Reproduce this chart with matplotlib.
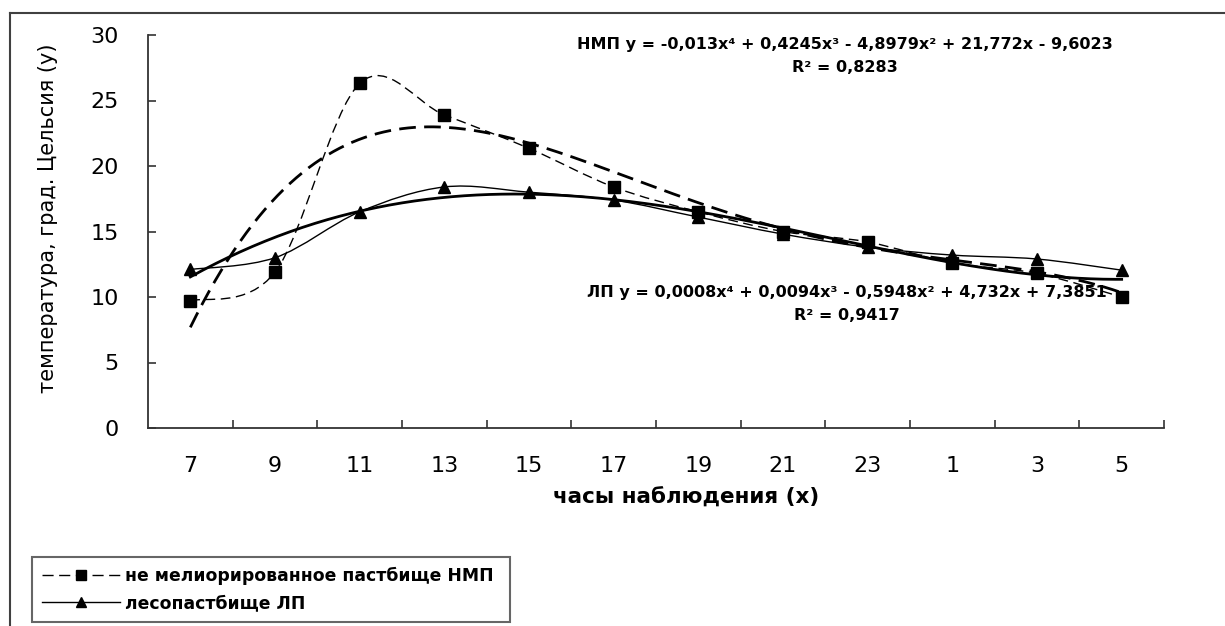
import numpy as np
import matplotlib
matplotlib.use("Agg")
import matplotlib.pyplot as plt
from matplotlib.path import Path
from matplotlib.patches import PathPatch
from matplotlib.lines import Line2D

plt.rcParams['font.family'] = ['DejaVu Sans']

# ---- data ----
hours = ["7", "9", "11", "13", "15", "17", "19", "21", "23", "1", "3", "5"]
nmp_values = [9.7, 11.9, 26.3, 23.9, 21.35, 18.4, 16.5, 15.0, 14.2, 12.6, 11.8, 10.0]
lp_values = [12.1, 13.0, 16.5, 18.4, 18.0, 17.4, 16.1, 14.8, 13.8, 13.2, 12.9, 12.05]
nmp_coef = [-0.013, 0.4245, -4.8979, 21.772, -9.6023]
lp_coef = [0.0008, 0.0094, -0.5948, 4.732, 7.3851]
nmp_label = "не мелиорированное пастбище НМП"
lp_label = "лесопастбище ЛП"
nmp_eq = "НМП y = -0,013x⁴ + 0,4245x³ - 4,8979x² + 21,772x - 9,6023"
nmp_r2 = "R² = 0,8283"
lp_eq = "ЛП y = 0,0008x⁴ + 0,0094x³ - 0,5948x² + 4,732x + 7,3851"
lp_r2 = "R² = 0,9417"
xlabel = "часы наблюдения (x)"
ylabel = "температура, град. Цельсия (y)"

W, H = 1225, 626
fig = plt.figure(figsize=(W / 100, H / 100), dpi=100)
ax = fig.add_axes([148 / W, (H - 428) / H, (1164 - 148) / W, (428 - 35) / H])

x = np.arange(1, len(hours) + 1)


def smooth_path(xs, ys):
    pts = np.column_stack([xs, ys]).astype(float)
    ext = np.vstack([pts[0], pts, pts[-1]])
    verts = [tuple(pts[0])]
    codes = [Path.MOVETO]
    for i in range(len(pts) - 1):
        p0, p1, p2, p3 = ext[i], ext[i + 1], ext[i + 2], ext[i + 3]
        c1 = p1 + (p2 - p0) / 6.0
        c2 = p2 - (p3 - p1) / 6.0
        verts += [tuple(c1), tuple(c2), tuple(p2)]
        codes += [Path.CURVE4] * 3
    return Path(verts, codes)


# trend lines
xt = np.linspace(1, len(hours), 300)
ax.plot(xt, np.polyval(nmp_coef, xt), color="black", lw=2.0,
        linestyle=(0, (6, 3)), zorder=2)
ax.plot(xt, np.polyval(lp_coef, xt), color="black", lw=2.0, zorder=2)

# smoothed data series
ax.add_patch(PathPatch(smooth_path(x, nmp_values), fill=False, edgecolor="black",
                       lw=1.0, linestyle=(0, (7, 4)), zorder=3))
ax.add_patch(PathPatch(smooth_path(x, lp_values), fill=False, edgecolor="black",
                       lw=1.0, zorder=3))
ax.plot(x, nmp_values, linestyle="none", marker="s", ms=8, color="black", zorder=4)
ax.plot(x, lp_values, linestyle="none", marker="^", ms=8, color="black", zorder=4)

ax.set_xlim(0.5, len(hours) + 0.5)
ax.set_ylim(0, 30)
ax.set_yticks(np.arange(0, 31, 5))
ax.set_xticks(x)
ax.set_xticklabels(hours)
ax.set_xticks(np.arange(1.5, len(hours) + 1, 1), minor=True)
ax.tick_params(axis="x", which="major", length=0, pad=20, labelsize=16)
ax.tick_params(axis="x", which="minor", direction="in", length=6, width=1.2, color="#333333")
ax.tick_params(axis="y", direction="in", length=6, width=1.2, color="#333333",
               pad=21, labelsize=16)
for s in ["top", "right"]:
    ax.spines[s].set_visible(False)
for s in ["left", "bottom"]:
    ax.spines[s].set_color("#333333")
    ax.spines[s].set_linewidth(1.3)

ax.set_xlabel(xlabel, fontsize=15.5, fontweight="bold", va="center")
ax.xaxis.set_label_coords(0.53, -0.178)
ax.set_ylabel(ylabel, fontsize=15, va="center", ha="center")
ax.yaxis.set_label_coords(-0.098, 0.534)

# equations
eq_kw = dict(ha="center", va="center", fontsize=11.5, fontweight="bold")
fig.text(845 / W, 1 - 45 / H, nmp_eq, **eq_kw)
fig.text(845 / W, 1 - 68 / H, nmp_r2, **eq_kw)
fig.text(847 / W, 1 - 293 / H, lp_eq, **eq_kw)
fig.text(847 / W, 1 - 316 / H, lp_r2, **eq_kw)

# outer frame lines
fig.add_artist(Line2D([10 / W, 1], [1 - 13 / H, 1 - 13 / H], transform=fig.transFigure,
                      color="#404040", lw=1.5))
fig.add_artist(Line2D([10 / W, 10 / W], [1 - 13 / H, 0], transform=fig.transFigure,
                      color="#404040", lw=1.5))

# legend
h1 = Line2D([], [], color="black", lw=1.0, linestyle=(0, (8, 4)), marker="s", ms=7)
h2 = Line2D([], [], color="black", lw=1.0, marker="^", ms=7)
leg = fig.legend([h1, h2], [nmp_label, lp_label], loc="upper left",
                 bbox_to_anchor=(32 / W, 1 - 557 / H, (510 - 32) / W, 0), mode="expand",
                 prop={"size": 12.4, "weight": "bold"}, frameon=True, fancybox=False,
                 edgecolor="#404040", handlelength=4.5, handletextpad=0.3,
                 borderaxespad=0, borderpad=0.6, labelspacing=0.5)
leg.get_frame().set_linewidth(1.5)

fig.savefig("out.png", dpi=100, facecolor="white")
